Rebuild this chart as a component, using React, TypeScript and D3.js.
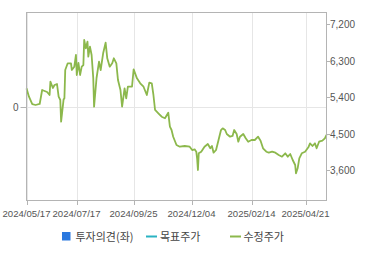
import React from "react";
import * as d3 from "d3";

const tickDates = ["2024-05-17", "2024-07-17", "2024-09-25", "2024-12-04", "2025-02-14", "2025-04-21"];
const tickLabels = ["2024/05/17", "2024/07/17", "2024/09/25", "2024/12/04", "2025/02/14", "2025/04/21"];
const priceTicks = [7200, 6300, 5400, 4500, 3600];
const leftTicks = [0];

const dates = [
  "2024-05-17", "2024-05-20", "2024-05-24", "2024-05-28", "2024-06-02", "2024-06-05", "2024-06-11", "2024-06-14",
  "2024-06-15", "2024-06-18", "2024-06-20", "2024-06-23", "2024-06-25", "2024-06-27", "2024-06-28", "2024-07-01",
  "2024-07-02", "2024-07-03", "2024-07-06", "2024-07-10", "2024-07-11", "2024-07-14", "2024-07-16", "2024-07-17",
  "2024-07-19", "2024-07-21", "2024-07-23", "2024-07-25", "2024-07-26", "2024-07-28", "2024-07-30", "2024-07-31",
  "2024-08-02", "2024-08-04", "2024-08-06", "2024-08-07", "2024-08-10", "2024-08-13", "2024-08-15", "2024-08-18",
  "2024-08-21", "2024-08-23", "2024-08-26", "2024-08-29", "2024-08-31", "2024-09-03", "2024-09-05", "2024-09-08",
  "2024-09-10", "2024-09-13", "2024-09-15", "2024-09-17", "2024-09-22", "2024-09-24", "2024-09-28", "2024-10-02",
  "2024-10-06", "2024-10-10", "2024-10-13", "2024-10-16", "2024-10-18", "2024-10-20", "2024-10-24", "2024-10-28",
  "2024-11-01", "2024-11-05", "2024-11-07", "2024-11-09", "2024-11-11", "2024-11-15", "2024-11-19", "2024-11-25",
  "2024-12-01", "2024-12-04", "2024-12-07", "2024-12-09", "2024-12-10", "2024-12-11", "2024-12-12", "2024-12-15",
  "2024-12-19", "2024-12-23", "2024-12-26", "2024-12-28", "2024-12-30", "2025-01-02", "2025-01-05", "2025-01-08",
  "2025-01-10", "2025-01-13", "2025-01-15", "2025-01-19", "2025-01-22", "2025-01-24", "2025-01-27", "2025-01-29",
  "2025-01-31", "2025-02-04", "2025-02-07", "2025-02-10", "2025-02-14", "2025-02-18", "2025-02-22", "2025-02-25",
  "2025-02-28", "2025-03-04", "2025-03-07", "2025-03-11", "2025-03-15", "2025-03-19", "2025-03-23", "2025-03-27",
  "2025-03-30", "2025-04-02", "2025-04-05", "2025-04-08", "2025-04-09", "2025-04-11", "2025-04-13", "2025-04-16",
  "2025-04-20", "2025-04-24", "2025-04-26", "2025-04-29", "2025-05-02", "2025-05-04", "2025-05-07", "2025-05-11",
  "2025-05-14", "2025-05-16",
];

const prices = [
  5620, 5415, 5230, 5210, 5235, 5580, 5530, 5457,
  5785, 5630, 5703, 5728, 5415, 5333, 4800, 5350,
  5375, 6073, 6238, 6238, 6073, 6155, 6443, 5950,
  6246, 5950, 6155, 6196, 6813, 6608, 6771, 6401,
  6648, 6443, 5876, 5168, 5876, 6278, 6073, 6485,
  6746, 6362, 6155, 6238, 6362, 6238, 5826, 5580,
  5168, 5622, 5375, 5661, 5661, 6090, 5868, 5745,
  5661, 5457, 5760, 5745, 5457, 5087, 5005, 4921,
  4882, 5020, 4675, 4593, 4428, 4224, 4182, 4199,
  4182, 4100, 4117, 4058, 3896, 3607, 4019, 4058,
  4182, 4248, 4142, 4199, 4034, 4100, 4347, 4593,
  4635, 4593, 4495, 4428, 4446, 4593, 4495, 4305,
  4428, 4495, 4389, 4305, 4347, 4347, 4428, 4330,
  4142, 4058, 4034, 4058, 4034, 3977, 3935, 4019,
  3935, 4002, 3854, 3730, 3526, 3649, 3896, 4019,
  4058, 4167, 4265, 4199, 4265, 4142, 4305, 4330,
  4389, 4470,
];

const legendItems = ["투자의견(좌)", "목표주가", "수정주가"];

const W = 370;
const H = 255;
const L = 26.5;
const R = 326.5;
const T = 12.5;
const B = 200.5;

export default function App() {
  const parse = d3.utcParse("%Y-%m-%d");
  const x = d3
    .scaleUtc()
    .domain([parse("2024-05-17") as Date, parse("2025-05-16") as Date])
    .range([L, R]);
  const y = d3.scaleLinear().domain([2855, 7491]).range([B, T]);
  const yl = d3.scaleLinear().domain([-1, 1]).range([B, T]);

  const data = dates.map((d, i) => ({ date: parse(d) as Date, v: prices[i] }));
  const line = d3
    .line<{ date: Date; v: number }>()
    .x((d) => x(d.date))
    .y((d) => y(d.v));

  const gridColor = "#e6e6e6";
  const frameColor = "#b4b4b4";
  const textColor = "#555";
  const font = "'Liberation Sans', Arial, sans-serif";
  const kfont = "'Noto Sans CJK KR', sans-serif";

  return (
    <svg
      width={W}
      height={H}
      style={{ position: "absolute", left: 0, top: 0, background: "#fff" }}
    >
      {/* vertical grid */}
      {tickDates.map((d) => {
        const xx = Math.round(x(parse(d) as Date)) + 0.5;
        return <line key={d} x1={xx} x2={xx} y1={T} y2={B} stroke={gridColor} strokeWidth={1} />;
      })}
      {/* horizontal grid at left 0 */}
      {leftTicks.map((t) => (
        <line key={t} x1={L} x2={R} y1={Math.round(yl(t)) + 0.5} y2={Math.round(yl(t)) + 0.5} stroke={gridColor} />
      ))}
      {/* price line */}
      <path d={line(data) || ""} fill="none" stroke="#8cb84c" strokeWidth={1.8} strokeLinejoin="round" />
      {/* frame */}
      <rect x={L} y={T} width={R - L} height={B - T} fill="none" stroke={frameColor} strokeWidth={1} />
      {/* x ticks */}
      {tickDates.map((d, i) => {
        const xx = Math.round(x(parse(d) as Date)) + 0.5;
        return (
          <g key={d}>
            <line x1={xx} x2={xx} y1={B} y2={B + 4.5} stroke={frameColor} />
            <text
              x={xx - 1}
              y={216.5}
              textAnchor="middle"
              fontFamily={font}
              fontSize={9.6}
              fill={textColor}
            >
              {tickLabels[i]}
            </text>
          </g>
        );
      })}
      {/* right axis */}
      {priceTicks.map((p) => {
        const yy = Math.round(y(p)) + 0.5;
        return (
          <g key={p}>
            <line x1={R} x2={R + 3.5} y1={yy} y2={yy} stroke={frameColor} />
            <text x={R + 3.5} y={yy + 3.5} fontFamily={font} fontSize={10} fill={textColor}>
              {d3.format(",")(p)}
            </text>
          </g>
        );
      })}
      {/* left axis */}
      {leftTicks.map((t) => {
        const yy = Math.round(yl(t)) + 0.5;
        return (
          <g key={t}>
            <line x1={20.5} x2={L} y1={yy} y2={yy} stroke={frameColor} />
            <text x={18.5} y={yy + 3.5} textAnchor="end" fontFamily={font} fontSize={10} fill={textColor}>
              {t}
            </text>
          </g>
        );
      })}
      {/* legend */}
      <rect x={62} y={232} width={8.5} height={8.5} fill="#2a78df" />
      <text x={75.5} y={240.5} fontFamily={kfont} fontSize={11} fill="#444">
        {legendItems[0]}
      </text>
      <line x1={146} x2={157} y1={236.5} y2={236.5} stroke="#2ab3c2" strokeWidth={2} />
      <text x={160} y={240.5} fontFamily={kfont} fontSize={11} fill="#444">
        {legendItems[1]}
      </text>
      <line x1={230} x2={241} y1={236.5} y2={236.5} stroke="#8cb84c" strokeWidth={2} />
      <text x={243.5} y={240.5} fontFamily={kfont} fontSize={11} fill="#444">
        {legendItems[2]}
      </text>
    </svg>
  );
}
